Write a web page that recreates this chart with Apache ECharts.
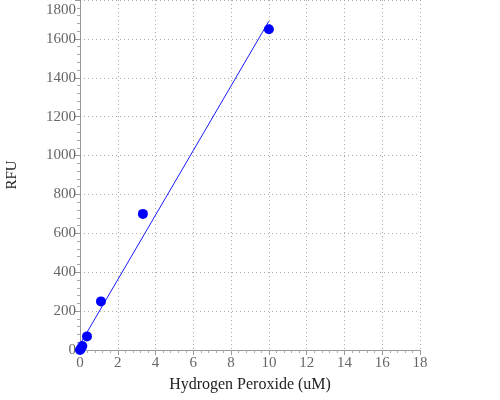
<!DOCTYPE html>
<html><head><meta charset="utf-8">
<script src="https://cdn.jsdelivr.net/npm/echarts@6/dist/echarts.min.js"></script>
<style>html,body{margin:0;padding:0;background:#fff}#c{width:500px;height:400px}</style>
</head><body><div id="c"></div>
<script>
var concX = [0, 0.041, 0.123, 0.37, 1.11, 3.33, 10];
var rfuY = [0, 5, 20, 70, 250, 700, 1650];
var fitX = [0, 10];
var fitY = [29.5, 1691];
var xTitle = 'Hydrogen Peroxide (uM)';
var yTitle = 'RFU';

var pts = concX.map(function(x, i){ return [x, rfuY[i]]; });
var fit = fitX.map(function(x, i){ return [x, fitY[i]]; });
var font = '"Liberation Serif", "DejaVu Serif", serif';
var chart = echarts.init(document.getElementById('c'));
chart.setOption({
  animation: false,
  grid: {left: 80, right: 80, top: 0, bottom: 50, containLabel: false, outerBoundsMode: 'none'},
  xAxis: {
    type: 'value', min: 0, max: 18, interval: 2,
    name: xTitle, nameLocation: 'middle', nameGap: 27,
    nameTextStyle: {fontFamily: font, fontSize: 16, color: '#222'},
    axisLine: {show: true, onZero: false, lineStyle: {color: '#999', width: 1}},
    axisTick: {show: true, length: 5, lineStyle: {color: '#999'}},
    minorTick: {show: true, splitNumber: 5, length: 3, lineStyle: {color: '#aaa'}},
    axisLabel: {fontFamily: font, fontSize: 15, color: '#666', margin: 6},
    splitLine: {show: true, lineStyle: {color: '#aaa', type: [1, 3], width: 1}}
  },
  yAxis: {
    type: 'value', min: 0, max: 1800, interval: 200,
    name: yTitle, nameLocation: 'middle', nameGap: 60, nameRotate: 90,
    nameTextStyle: {fontFamily: font, fontSize: 15, color: '#222'},
    axisLine: {show: true, lineStyle: {color: '#999', width: 1}},
    axisTick: {show: true, length: 5, lineStyle: {color: '#999'}},
    minorTick: {show: true, splitNumber: 5, length: 3, lineStyle: {color: '#aaa'}},
    axisLabel: {fontFamily: font, fontSize: 15, color: '#666', margin: 4,
      formatter: function(v){ return v === 1800 ? '{top|' + v + '}' : String(v); },
      rich: {top: {fontFamily: font, fontSize: 15, color: '#666', padding: [20, 0, 0, 0]}}},
    splitLine: {show: true, lineStyle: {color: '#aaa', type: [1, 3], width: 1}}
  },
  series: [
    {type: 'line', data: fit, symbol: 'none', lineStyle: {color: '#1a1aff', width: 1}, z: 2},
    {type: 'scatter', data: pts, symbolSize: 10, itemStyle: {color: '#0000ff', opacity: 1}, z: 3}
  ]
});
</script></body></html>
